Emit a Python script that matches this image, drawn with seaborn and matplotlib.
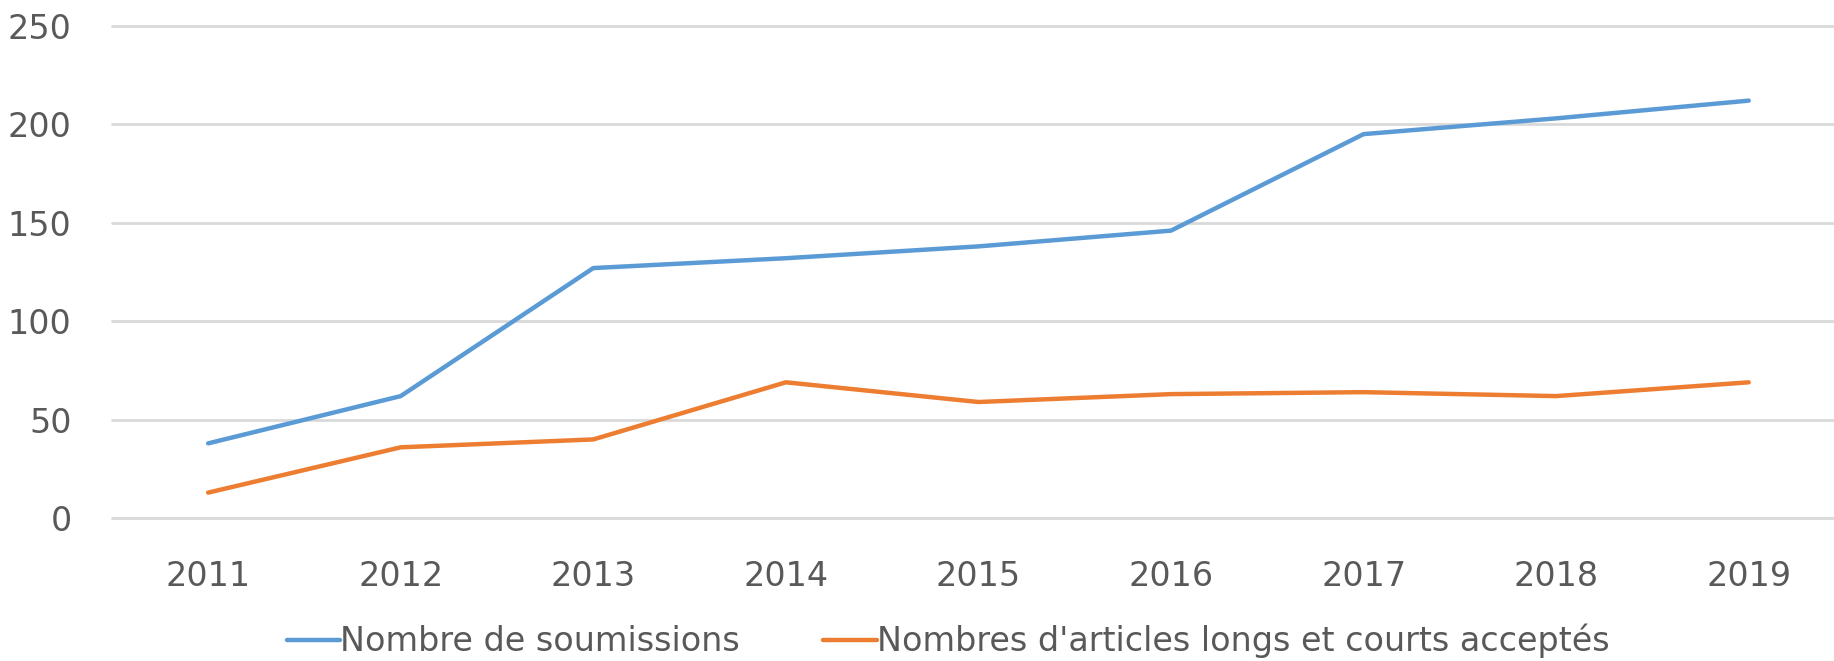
import pandas as pd
import seaborn as sns
import matplotlib.pyplot as plt

# --- Données ---
annees = ['2011', '2012', '2013', '2014', '2015', '2016', '2017', '2018', '2019']
soumissions = [38, 62, 127, 132, 138, 146, 195, 203, 212]
acceptes = [13, 36, 40, 69, 59, 63, 64, 62, 69]
series = ['Nombre de soumissions', "Nombres d'articles longs et courts acceptés"]
couleurs = ['#5B9BD5', '#ED7D31']
yticks = [0, 50, 100, 150, 200, 250]

dados = pd.DataFrame({
    'annee': annees * 2,
    'valeur': soumissions + acceptes,
    'serie': [series[0]] * len(annees) + [series[1]] * len(annees),
})

sns.set_style('white')
plt.rcParams['font.family'] = ['DejaVu Sans']
gris_texte = '#595959'

fig = plt.figure(figsize=(18.34, 6.61), dpi=100)
ax = fig.add_axes([0.061, 0.216, 0.945, 0.745])

sns.lineplot(data=dados, x='annee', y='valeur', hue='serie', palette=couleurs,
             linewidth=3.2, ax=ax, sort=False, legend=False)

ax.set_xlim(-0.5, len(annees) - 0.5)
ax.set_ylim(0, 250)
ax.set_yticks(yticks)
ax.yaxis.grid(True, color='#D9D9D9', linewidth=2)
for g in ax.yaxis.get_gridlines():
    g.set_clip_on(False)
ax.set_axisbelow(True)
for s in ax.spines.values():
    s.set_visible(False)
ax.tick_params(axis='y', length=0, pad=29, labelsize=24, labelcolor=gris_texte)
ax.tick_params(axis='x', length=0, pad=30, labelsize=24, labelcolor=gris_texte)
ax.set_xlabel('')
ax.set_ylabel('')

# Légende en bas
poignees = [plt.Line2D([], [], color=c, linewidth=3.2) for c in couleurs]
fig.legend(poignees, series, loc='center', bbox_to_anchor=(0.517, 0.03),
           ncol=2, frameon=False, fontsize=24, handlelength=1.6,
           handletextpad=0.0, columnspacing=2.5, labelcolor=gris_texte)

plt.savefig('out.png', dpi=100)
